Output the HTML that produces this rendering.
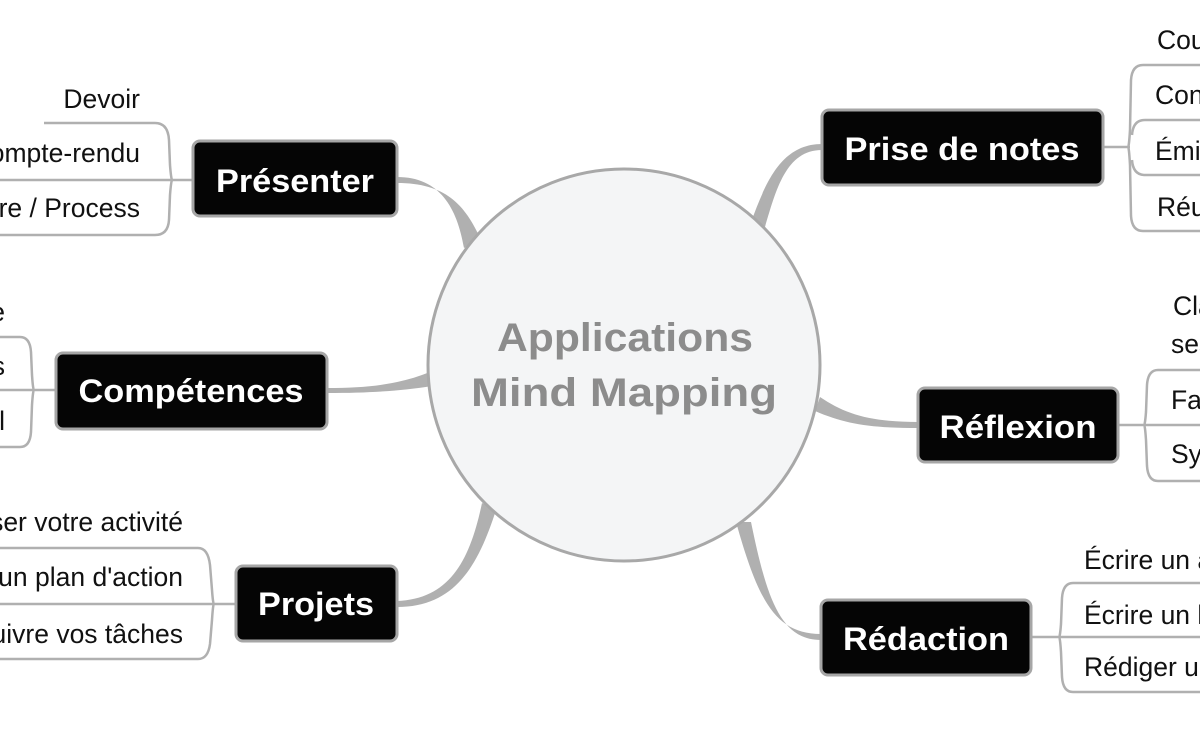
<!DOCTYPE html>
<html><head><meta charset="utf-8"><style>
html,body{margin:0;padding:0;background:#fff;}
svg{display:block;}
.t{font-family:"Liberation Sans",sans-serif;font-weight:bold;font-size:32px;fill:#fff;}
.s{font-family:"Liberation Sans",sans-serif;font-size:26.5px;fill:#111;}
.c{font-family:"Liberation Sans",sans-serif;font-weight:bold;font-size:40px;fill:#8c8c8c;}
.ln{fill:none;stroke:#b0b0b0;stroke-width:2.5;}
.box{fill:#050505;stroke:#a6a6a6;stroke-width:3;}
.br{fill:#b0b0b0;}
</style></head><body>
<svg width="1200" height="730" viewBox="0 0 1200 730">
<!-- main branches -->
<path class="br" d="M397,177 C440,177 457,208 464,248 L481,240 C465,204 445,183 397,183 Z"/>
<path class="br" d="M327,388 C370,388 400,384 430,372 L432,386 C400,391 370,393 327,393 Z"/>
<path class="br" d="M397,601 C450,599 470,560 482,503 L496,510 C478,566 455,607 397,607 Z"/>
<path class="br" d="M822,144 C780,144 765,185 751,222 L765,227 C776,190 786,150 822,150 Z"/>
<path class="br" d="M918,422 C870,422 845,414 820,397 L815,411 C845,424 870,428 918,428 Z"/>
<path class="br" d="M821,634 C775,634 758,600 736,522 L751,522 C767,600 781,640 821,640 Z"/>

<!-- center circle -->
<circle cx="624" cy="365" r="196" fill="#f4f5f6" stroke="#a8a8a8" stroke-width="3"/>
<text class="c" x="625" y="351" text-anchor="middle" textLength="256" lengthAdjust="spacingAndGlyphs">Applications</text>
<text class="c" x="624" y="406" text-anchor="middle" textLength="306" lengthAdjust="spacingAndGlyphs">Mind Mapping</text>

<!-- Présenter subtopics -->
<path class="ln" d="M44,123 L155,123 Q168,123 169,140 L170,165 Q171,178 172,180 Q171,182 170,195 L169,220 Q168,235 155,235 L0,235"/>
<path class="ln" d="M0,180 L193,180"/>
<text class="s" x="140" y="108" text-anchor="end">Devoir</text>
<text class="s" x="140" y="162" text-anchor="end">Compte-rendu</text>
<text class="s" x="140" y="217" text-anchor="end">Procédure / Process</text>

<!-- Compétences subtopics -->
<path class="ln" d="M0,337 L20,337 Q30,337 31,352 L32,375 Q33,390 34,390 Q33,390 32,405 L31,432 Q30,447 20,447 L0,447"/>
<path class="ln" d="M0,390 L56,390"/>
<text class="s" x="5" y="321" text-anchor="end">Savoir-être</text>
<text class="s" x="5" y="375" text-anchor="end">Compétences</text>
<text class="s" x="5" y="430" text-anchor="end">Recrutement / Bilan annuel</text>

<!-- Projets subtopics -->
<path class="ln" d="M0,548 L198,548 Q208,548 210,565 L212,590 Q213,604 214,604 Q213,604 212,620 L210,644 Q208,659 198,659 L0,659"/>
<path class="ln" d="M0,604 L236,604"/>
<text class="s" x="183" y="531" text-anchor="end">Organiser votre activité</text>
<text class="s" x="183" y="586" text-anchor="end">Élaborer un plan d'action</text>
<text class="s" x="183" y="643" text-anchor="end">Suivre vos tâches</text>

<!-- Prise de notes subtopics -->
<path class="ln" d="M1200,65 L1143,65 Q1132,65 1131,80 L1130,130 Q1129,147 1128,147 Q1129,147 1130,165 L1131,216 Q1132,231 1143,231 L1200,231"/>
<path class="ln" d="M1200,120 L1145,120 Q1133,120 1132,135"/>
<path class="ln" d="M1200,175 L1145,175 Q1133,175 1132,160"/>
<path class="ln" d="M1103,147 L1130,147"/>
<text class="s" x="1157" y="49">Cours</text>
<text class="s" x="1155" y="104">Conférences</text>
<text class="s" x="1155" y="160">Émissions</text>
<text class="s" x="1157" y="216">Réunions</text>

<!-- Réflexion subtopics -->
<path class="ln" d="M1200,370 L1158,370 Q1148,370 1147,385 L1146,412 Q1145,425 1144,425 Q1145,425 1146,440 L1147,466 Q1148,481 1158,481 L1200,481"/>
<path class="ln" d="M1118,425 L1200,425"/>
<text class="s" x="1173" y="315">Clarifier</text>
<text class="s" x="1171" y="353">ses idées</text>
<text class="s" x="1171" y="409">Faire</text>
<text class="s" x="1171" y="463">Synthétiser</text>

<!-- Rédaction subtopics -->
<path class="ln" d="M1200,583 L1073,583 Q1063,583 1062,598 L1061,624 Q1060,637 1059,637 Q1060,637 1061,652 L1062,677 Q1063,692 1073,692 L1200,692"/>
<path class="ln" d="M1031,637 L1200,637"/>
<text class="s" x="1084" y="569">Écrire un article</text>
<text class="s" x="1084" y="624">Écrire un livre</text>
<text class="s" x="1084" y="676">Rédiger un rapport</text>

<!-- topic boxes -->
<rect class="box" x="193" y="141" width="204" height="75" rx="7"/>
<text class="t" x="295" y="192" text-anchor="middle" textLength="158" lengthAdjust="spacingAndGlyphs">Présenter</text>
<rect class="box" x="56" y="353" width="271" height="76" rx="7"/>
<text class="t" x="191" y="402" text-anchor="middle" textLength="225" lengthAdjust="spacingAndGlyphs">Compétences</text>
<rect class="box" x="236" y="566" width="161" height="75" rx="7"/>
<text class="t" x="316" y="615" text-anchor="middle" textLength="116" lengthAdjust="spacingAndGlyphs">Projets</text>
<rect class="box" x="822" y="110" width="281" height="75" rx="7"/>
<text class="t" x="962" y="160" text-anchor="middle" textLength="235" lengthAdjust="spacingAndGlyphs">Prise de notes</text>
<rect class="box" x="918" y="388" width="200" height="74" rx="7"/>
<text class="t" x="1018" y="438" text-anchor="middle" textLength="157" lengthAdjust="spacingAndGlyphs">Réflexion</text>
<rect class="box" x="821" y="600" width="210" height="75" rx="7"/>
<text class="t" x="926" y="650" text-anchor="middle" textLength="166" lengthAdjust="spacingAndGlyphs">Rédaction</text>
</svg>
</body></html>
